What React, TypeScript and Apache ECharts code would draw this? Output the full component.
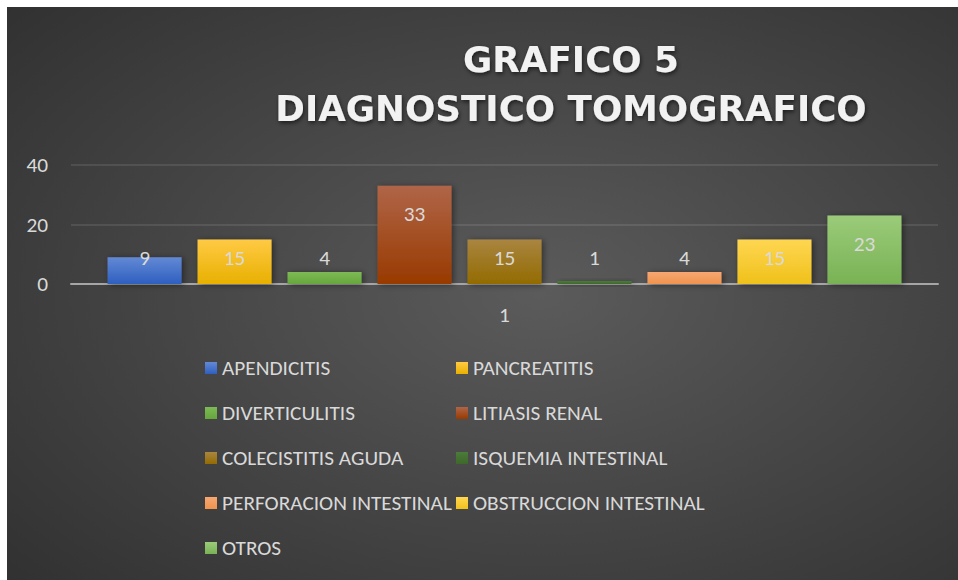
import React, { useEffect, useRef } from "react";
import * as echarts from "echarts";

const categories = ["1"];
const seriesNames = [
  "APENDICITIS",
  "PANCREATITIS",
  "DIVERTICULITIS",
  "LITIASIS RENAL",
  "COLECISTITIS AGUDA",
  "ISQUEMIA INTESTINAL",
  "PERFORACION INTESTINAL",
  "OBSTRUCCION INTESTINAL",
  "OTROS",
];
const seriesValues = [9, 15, 4, 33, 15, 1, 4, 15, 23];
const yTicks = [0, 20, 40];
const titleLines = ["GRAFICO 5", "DIAGNOSTICO TOMOGRAFICO"];

const colorStops: [string, string][] = [
  ["#6389d4", "#2e5fc0"],
  ["#ffca45", "#e8b000"],
  ["#7dba56", "#66a63c"],
  ["#b06548", "#983a00"],
  ["#a98541", "#936b00"],
  ["#4c7b3b", "#3d682a"],
  ["#f7a772", "#f0934e"],
  ["#ffd652", "#efc11a"],
  ["#9bcb79", "#79b255"],
];

const leftCol = [0, 2, 4, 6, 8];
const rightCol = [1, 3, 5, 7];

const FONT = "Carlito, 'Liberation Sans Narrow', Roboto, sans-serif";
const FS = 21.3;
const TXT = "#d9d9d9";

export default function App() {
  const ref = useRef<HTMLDivElement>(null);
  useEffect(() => {
    if (!ref.current) return;
    const chart = echarts.init(ref.current, null, { renderer: "svg" });
    const grad = (c: [string, string]) =>
      new echarts.graphic.LinearGradient(0, 0, 0, 1, [
        { offset: 0, color: c[0] },
        { offset: 1, color: c[1] },
      ]);
    const series = seriesNames.map((name, i) => {
      const v = seriesValues[i];
      const tall = v > 18;
      return {
        type: "bar",
        name,
        barWidth: 74,
        barGap: "21.6%",
        data: [v],
        itemStyle: {
          color: grad(colorStops[i]),
          shadowBlur: 6,
          shadowColor: "rgba(0,0,0,0.45)",
          shadowOffsetX: 2,
          shadowOffsetY: 1,
        },
        label: {
          show: true,
          position: tall ? "insideTop" : "insideBottom",
          distance: tall ? 17 : 15,
          color: TXT,
          fontSize: FS,
          lineHeight: 22,
          fontFamily: FONT,
        },
        z: 3,
      };
    });
    const legendBase = {
      orient: "vertical",
      top: 357,
      padding: 0,
      itemWidth: 12,
      itemHeight: 12,
      itemGap: 23,
      icon: "rect",
      textStyle: { color: TXT, fontSize: FS, lineHeight: 22, fontFamily: FONT },
    };
    chart.setOption({
      animation: false,
      backgroundColor: "#ffffff",
      graphic: [
        {
          type: "rect",
          z: -10,
          silent: true,
          shape: { x: 7, y: 7, width: 951, height: 573 },
          style: {
            fill: new echarts.graphic.RadialGradient(0.56, 0.5, 0.95, [
              { offset: 0, color: "#5b5b5b" },
              { offset: 1, color: "#262626" },
            ]),
          },
        },
        {
          type: "text",
          x: 571,
          y: 83.5,
          z: 10,
          style: {
            text: titleLines.join("\n"),
            fill: "#f2f2f2",
            font: "bold 35.7px 'DejaVu Sans', sans-serif",
            lineHeight: 49,
            textAlign: "center",
            textVerticalAlign: "middle",
            textShadowColor: "rgba(0,0,0,0.6)",
            textShadowBlur: 4,
            textShadowOffsetX: 1,
            textShadowOffsetY: 2,
          },
        },
      ],
      grid: { left: 71, right: 20, top: 165, bottom: 296, containLabel: false },
      xAxis: {
        type: "category",
        data: categories,
        axisTick: { show: false },
        axisLine: { show: true, lineStyle: { color: "#a6a6a6", width: 2 } },
        axisLabel: { color: TXT, fontSize: FS, fontFamily: FONT, margin: 20 },
      },
      yAxis: {
        type: "value",
        min: yTicks[0],
        max: yTicks[yTicks.length - 1],
        interval: yTicks[1] - yTicks[0],
        axisLine: { show: false },
        axisTick: { show: false },
        axisLabel: { color: TXT, fontSize: FS, fontFamily: FONT, margin: 23 },
        splitLine: { lineStyle: { color: "rgba(255,255,255,0.13)", width: 1.5 } },
      },
      legend: [
        { ...legendBase, left: 205, data: leftCol.map((i) => seriesNames[i]) },
        { ...legendBase, left: 456, data: rightCol.map((i) => seriesNames[i]) },
      ],
      series,
    });
    return () => chart.dispose();
  }, []);
  return (
    <div
      ref={ref}
      style={{ position: "absolute", left: 0, top: 0, width: 958, height: 580 }}
    />
  );
}
